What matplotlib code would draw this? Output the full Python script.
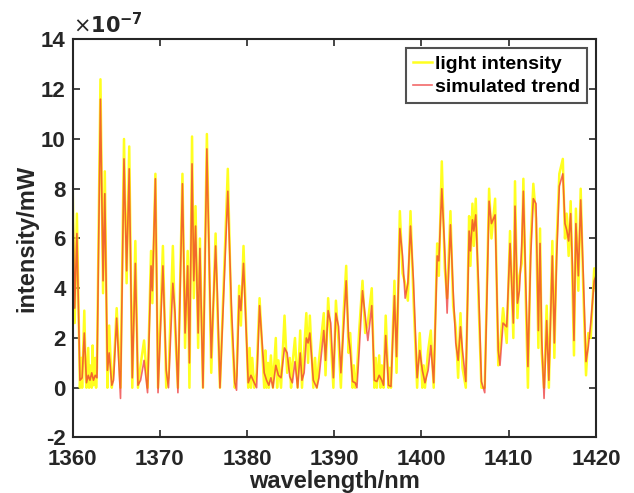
import matplotlib
matplotlib.use("Agg")
import matplotlib.pyplot as plt

plt.rcParams['font.family'] = ['Liberation Sans', 'DejaVu Sans']
plt.rcParams['axes.unicode_minus'] = False

# simulated trend (units of 1e-7 mW)
trend_wl = [1360.0, 1360.25, 1360.5, 1360.85, 1361.1, 1361.35, 1361.6, 1361.8, 1362.0, 1362.2,
            1362.4, 1362.6, 1362.8, 1363.2, 1363.5, 1363.7, 1364.0, 1364.2, 1364.5, 1364.7,
            1365.06, 1365.5, 1365.9, 1366.2, 1366.5, 1366.85, 1367.2, 1367.5, 1367.8, 1368.2,
            1368.6, 1369.0, 1369.15, 1369.5, 1369.8, 1370.36, 1370.74, 1371.0, 1371.5, 1371.75,
            1372.08, 1372.6, 1372.9, 1373.2, 1373.4, 1373.7, 1373.9, 1374.1, 1374.4, 1374.6,
            1374.95, 1375.4, 1375.9, 1376.4, 1376.6, 1376.9, 1377.8, 1378.2, 1378.6, 1378.8,
            1379.1, 1379.3, 1379.6, 1380.14, 1380.45, 1380.83, 1381.1, 1381.44, 1381.97, 1382.24,
            1382.5, 1382.74, 1382.97, 1383.3, 1383.6, 1383.9, 1384.3, 1384.6, 1384.9, 1385.2,
            1385.5, 1385.8, 1386.1, 1386.3, 1386.55, 1386.8, 1387.0, 1387.2, 1387.6, 1388.0,
            1388.25, 1388.8, 1389.0, 1389.3, 1389.6, 1389.9, 1390.19, 1390.5, 1390.76, 1391.07,
            1391.37, 1391.64, 1391.83, 1392.1, 1392.4, 1392.6, 1392.86, 1393.24, 1393.55, 1393.85,
            1394.3, 1394.6, 1394.88, 1395.15, 1395.45, 1395.65, 1395.9, 1396.22, 1396.5, 1396.9,
            1397.14, 1397.52, 1397.83, 1398.13, 1398.44, 1398.74, 1399.08, 1399.5, 1399.8, 1400.1,
            1400.4, 1400.76, 1401.07, 1401.4, 1401.8, 1401.99, 1402.33, 1402.67, 1402.94, 1403.32,
            1403.63, 1403.93, 1404.2, 1404.47, 1404.7, 1405.08, 1405.46, 1405.61, 1405.84, 1406.0,
            1406.22, 1406.53, 1406.87, 1407.25, 1407.75, 1408.02, 1408.44, 1408.8, 1409.0, 1409.35,
            1409.77, 1410.15, 1410.53, 1410.72, 1411.0, 1411.22, 1411.49, 1411.68, 1411.95, 1412.2,
            1412.52, 1412.82, 1413.13, 1413.4, 1413.59, 1413.78, 1414.05, 1414.35, 1414.6, 1415.0,
            1415.23, 1415.5, 1415.8, 1416.2, 1416.45, 1416.64, 1416.87, 1417.1, 1417.3, 1417.48,
            1417.7, 1417.98, 1418.25, 1418.55, 1418.86, 1419.12, 1419.4, 1419.8, 1420.0]
trend_val = [8.0, 3.2, 6.2, 0.3, 0.4, 2.2, 0.2, 0.5, 0.3, 0.6,
             0.3, 0.5, 0.4, 11.6, 4.3, 7.8, 0.7, 1.4, 0.1, 0.3,
             2.8, -0.43, 9.2, 4.7, 8.8, 0.4, 5.0, 0.1, 0.3, 1.1,
             -0.2, 4.9, 3.9, 8.4, -0.2, 4.9, 0.7, 0.0, 4.2, 3.0,
             -0.2, 8.2, 2.2, 4.9, 1.0, 9.0, 4.3, 6.5, 2.2, 5.6,
             0.0, 9.6, 1.2, 5.7, 3.8, 0.0, 7.9, 3.4, 0.2, -0.1,
             3.7, 3.1, 5.0, 0.2, 0.5, 0.2, 0.0, 3.3, 0.6, 0.3,
             0.1, 0.4, 0.0, 0.9, 0.5, 0.4, 1.6, 1.4, 0.45, 0.2,
             1.05, 0.0, 1.4, 0.3, 0.6, 2.0, 1.8, 2.2, 0.3, 0.0,
             0.4, 2.3, 1.1, 3.1, 2.6, 0.4, 3.0, 2.45, 0.6, 2.4,
             4.3, 2.05, 1.5, 0.25, 0.2, 0.0, 1.5, 3.9, 2.9, 1.9,
             3.3, 0.3, 0.25, 0.5, 0.3, 0.1, 2.1, 0.1, 0.05, 3.7,
             1.25, 6.4, 5.3, 3.6, 4.2, 6.5, 4.3, 0.4, 1.5, 0.7,
             0.2, 0.7, 1.7, 0.2, 5.3, 5.1, 8.0, 5.5, 3.0, 6.55,
             3.9, 1.8, 1.1, 2.45, 1.5, 0.25, 6.3, 5.5, 6.75, 6.3,
             6.95, 4.2, 0.25, -0.2, 7.5, 6.6, 6.95, 1.5, 0.9, 2.6,
             2.45, 5.8, 2.6, 7.3, 3.4, 3.9, 5.7, 7.9, 4.2, 0.85,
             5.3, 7.6, 7.4, 2.3, 5.8, 2.0, -0.43, 2.7, 0.3, 5.3,
             1.8, 5.3, 8.1, 8.6, 6.6, 6.35, 5.9, 7.0, 4.9, 1.9,
             6.6, 4.5, 7.55, 4.5, 1.05, 1.65, 2.6, 4.3, 4.5]

# measured light intensity (units of 1e-7 mW)
light_wl = [1360.0, 1360.25, 1360.5, 1360.85, 1361.0, 1361.1, 1361.35, 1361.5, 1361.6, 1361.8,
            1361.9, 1362.0, 1362.2, 1362.3, 1362.4, 1362.6, 1362.7, 1362.8, 1363.2, 1363.5,
            1363.7, 1364.0, 1364.2, 1364.5, 1364.7, 1365.06, 1365.5, 1365.9, 1366.2, 1366.5,
            1366.85, 1367.2, 1367.5, 1367.8, 1368.2, 1368.6, 1369.0, 1369.15, 1369.5, 1369.8,
            1370.36, 1370.74, 1371.0, 1371.5, 1371.75, 1372.08, 1372.6, 1372.9, 1373.2, 1373.4,
            1373.7, 1373.9, 1374.1, 1374.4, 1374.6, 1374.95, 1375.4, 1375.9, 1376.4, 1376.6,
            1376.9, 1377.8, 1378.2, 1378.6, 1378.8, 1379.1, 1379.3, 1379.6, 1380.14, 1380.3,
            1380.45, 1380.6, 1380.83, 1381.1, 1381.44, 1381.97, 1382.1, 1382.24, 1382.4, 1382.5,
            1382.74, 1382.97, 1383.3, 1383.45, 1383.6, 1383.9, 1384.3, 1384.6, 1384.9, 1385.05,
            1385.2, 1385.5, 1385.8, 1386.1, 1386.3, 1386.55, 1386.8, 1387.0, 1387.2, 1387.6,
            1387.8, 1388.0, 1388.25, 1388.8, 1389.0, 1389.3, 1389.6, 1389.9, 1390.19, 1390.5,
            1390.76, 1391.07, 1391.37, 1391.64, 1391.83, 1392.1, 1392.25, 1392.4, 1392.6, 1392.86,
            1393.24, 1393.55, 1393.85, 1394.3, 1394.6, 1394.75, 1394.88, 1395.15, 1395.3, 1395.45,
            1395.65, 1395.9, 1396.22, 1396.35, 1396.5, 1396.9, 1397.14, 1397.52, 1397.83, 1398.13,
            1398.44, 1398.74, 1399.08, 1399.5, 1399.8, 1400.1, 1400.25, 1400.4, 1400.76, 1401.07,
            1401.4, 1401.8, 1401.99, 1402.33, 1402.67, 1402.94, 1403.32, 1403.63, 1403.93, 1404.2,
            1404.47, 1404.7, 1405.08, 1405.46, 1405.61, 1405.84, 1406.0, 1406.22, 1406.53, 1406.87,
            1407.25, 1407.75, 1408.02, 1408.44, 1408.8, 1409.0, 1409.35, 1409.77, 1410.15, 1410.53,
            1410.72, 1411.0, 1411.22, 1411.49, 1411.68, 1411.95, 1412.2, 1412.52, 1412.82, 1413.13,
            1413.4, 1413.59, 1413.78, 1414.05, 1414.35, 1414.6, 1415.0, 1415.23, 1415.5, 1415.8,
            1416.2, 1416.45, 1416.64, 1416.87, 1417.1, 1417.3, 1417.48, 1417.7, 1417.98, 1418.25,
            1418.55, 1418.86, 1419.12, 1419.4, 1419.8, 1420.0]
light_val = [8.5, 2.6, 7.0, 0.0, 1.2, 0.0, 3.1, 0.5, 0.0, 1.6,
             0.0, 0.9, 0.0, 1.7, 0.1, 1.2, 0.0, 0.8, 12.4, 3.8,
             8.7, 0.0, 2.5, 0.0, 0.6, 3.2, 0.0, 10.0, 4.2, 9.7,
             0.0, 5.9, 0.0, 0.9, 1.9, 0.0, 5.5, 3.4, 8.6, 0.0,
             5.7, 0.0, 0.4, 5.7, 2.4, 0.0, 8.6, 1.6, 5.5, 0.0,
             10.1, 3.6, 7.3, 1.6, 6.0, 0.0, 10.2, 0.6, 6.2, 3.2,
             0.0, 8.8, 2.8, 0.0, 0.5, 4.1, 2.5, 5.7, 0.0, 1.6,
             0.0, 1.2, 0.0, 0.6, 3.6, 0.0, 1.5, 0.0, 1.0, 0.0,
             1.3, 0.0, 2.0, 0.0, 1.1, 0.0, 2.9, 0.6, 1.2, 0.0,
             0.9, 2.0, 0.0, 2.3, 0.0, 1.5, 3.0, 1.0, 2.9, 0.0,
             1.2, 0.0, 1.1, 3.0, 0.5, 3.6, 1.9, 0.0, 3.5, 1.8,
             0.0, 3.0, 4.9, 1.4, 2.2, 0.0, 0.9, 0.0, 0.6, 2.3,
             4.3, 2.2, 2.6, 4.0, 0.0, 1.2, 0.0, 1.3, 0.0, 0.9,
             0.0, 2.9, 0.0, 0.8, 0.0, 4.3, 0.6, 7.1, 4.6, 4.2,
             3.5, 7.1, 3.6, 0.0, 2.2, 0.0, 0.9, 0.0, 1.5, 2.3,
             0.0, 5.8, 4.5, 9.1, 4.8, 3.6, 7.1, 3.3, 2.4, 0.4,
             3.0, 0.8, 0.0, 6.9, 4.9, 7.4, 5.7, 7.6, 3.6, 0.0,
             0.0, 8.0, 6.0, 7.6, 0.9, 1.6, 3.2, 1.8, 6.3, 2.0,
             8.3, 2.8, 4.5, 5.0, 8.4, 3.6, 0.0, 5.9, 8.2, 6.8,
             1.6, 6.4, 1.4, 0.0, 3.3, 0.0, 5.9, 1.2, 5.9, 8.6,
             9.2, 6.0, 7.0, 5.3, 7.5, 4.3, 1.3, 7.2, 3.9, 8.0,
             3.9, 0.5, 2.2, 2.0, 4.8, 3.9]

y_ticks = [-2, 0, 2, 4, 6, 8, 10, 12, 14]
x_ticks = [1360, 1370, 1380, 1390, 1400, 1410, 1420]

fig = plt.figure(figsize=(6.34, 4.93), dpi=100)
ax = fig.add_axes([0.1144, 0.1126, 0.8256, 0.8073])

ax.plot(light_wl, light_val, color='#FFFF20', lw=1.8, label='light intensity')
ax.plot(trend_wl, trend_val, color='#EE3030', alpha=0.72, lw=1.2, label='simulated trend')

ax.set_xlim(1360, 1420)
ax.set_ylim(-2, 14)
ax.set_xticks(x_ticks)
ax.set_yticks(y_ticks)
ax.set_xticklabels([str(t) for t in x_ticks], fontsize=16, fontweight='bold', color='#262626')
ax.set_yticklabels([str(t) for t in y_ticks], fontsize=16, fontweight='bold', color='#262626')
ax.tick_params(direction='in', top=True, right=True, length=5, width=1.2, color='#262626')
ax.tick_params(axis='x', pad=8)
ax.tick_params(axis='y', pad=5)
for s in ax.spines.values():
    s.set_linewidth(1.5)
    s.set_color('#262626')

ax.set_xlabel('wavelength/nm', fontsize=17, fontweight='bold', color='#262626', labelpad=0)
ax.set_ylabel('intensity/mW', fontsize=17, fontweight='bold', color='#262626', labelpad=2)
ax.text(0.0, 1.005, r'$\times\mathbf{10^{-7}}$', transform=ax.transAxes, fontsize=15,
        fontweight='bold', color='#262626', ha='left', va='bottom')

leg = ax.legend(loc='upper right', prop={'weight': 'bold', 'size': 14},
                frameon=True, fancybox=False, edgecolor='#262626', handlelength=1.0,
                handletextpad=0.15, borderpad=0.35, labelspacing=0.3,
                borderaxespad=0.45)
leg.get_frame().set_linewidth(1.5)

fig.savefig('out.png', dpi=100)
